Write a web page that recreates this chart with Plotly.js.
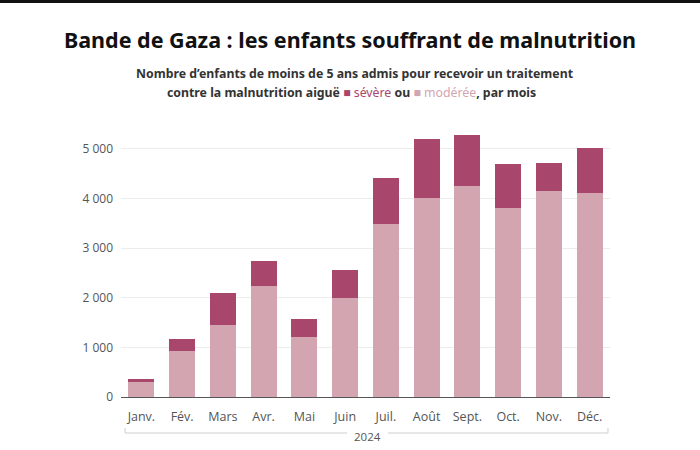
<!DOCTYPE html>
<html>
<head>
<meta charset="utf-8">
<script src="https://cdn.plot.ly/plotly-3.0.1.min.js"></script>
<style>
html,body{margin:0;padding:0;background:#fff;}
#chart{width:700px;height:450px;}
</style>
</head>
<body>
<div id="chart"></div>
<script>
const months = ["Janv.","Fév.","Mars","Avr.","Mai","Juin","Juil.","Août","Sept.","Oct.","Nov.","Déc."];
const moderate = [300, 925, 1450, 2240, 1210, 1990, 3490, 4010, 4250, 3810, 4150, 4120];
const severe   = [70, 245, 650, 510, 360, 570, 920, 1190, 1030, 890, 560, 890];
const yTickVals = [0, 1000, 2000, 3000, 4000, 5000];
const yTickText = ["0", "1 000", "2 000", "3 000", "4 000", "5 000"];
const yearLabel = "2024";

const cSevere = "#a9466c";
const cModerate = "#d3a5b1";

const traces = [
  {type:"bar", name:"modérée", x:months, y:moderate, marker:{color:cModerate}, hoverinfo:"x+y"},
  {type:"bar", name:"sévère", x:months, y:severe, marker:{color:cSevere}, hoverinfo:"x+y"}
];

const L = 121, R = 90, T = 125, B = 53, W = 700, H = 450;
const pw = W - L - R, ph = H - T - B;
const px = v => (v - L) / pw;
const py = v => (H - B - v) / ph;

const layout = {
  width: W, height: H,
  margin: {l: L, r: R, t: T, b: B},
  paper_bgcolor: "#fff", plot_bgcolor: "#fff",
  barmode: "stack",
  bargap: 0.36,
  showlegend: false,
  font: {family: "Open Sans, sans-serif", color: "#444"},
  title: {
    text: "<b>Bande de Gaza : les enfants souffrant de malnutrition</b>",
    font: {family: "Noto Sans, sans-serif", size: 21.5, color: "#111"},
    x: 0.5, xref: "container", xanchor: "center",
    y: 1 - 40/H, yref: "container", yanchor: "middle"
  },
  xaxis: {
    type: "category",
    tickfont: {size: 12.5, color: "#555"},
    showgrid: false, zeroline: false,
    showline: false, ticks: "", ticklabelstandoff: 10,
    range: [-0.5, 11.5],
    fixedrange: true
  },
  yaxis: {
    range: [0, 5480],
    tickvals: yTickVals, ticktext: yTickText,
    tickfont: {size: 12, color: "#555"},
    showgrid: true, gridcolor: "#ececec", gridwidth: 1,
    zeroline: true, zerolinecolor: "#555", zerolinewidth: 1,
    ticks: "", ticklabelstandoff: 7,
    showline: false, fixedrange: true
  },
  annotations: [
    {
      xref: "paper", yref: "paper", x: px(354), y: py(73), xanchor: "center", yanchor: "middle",
      text: "<b>Nombre d’enfants de moins de 5 ans admis pour recevoir un traitement</b>",
      showarrow: false, font: {family: "Noto Sans, sans-serif", size: 12.3, color: "#333"}
    },
    {
      xref: "paper", yref: "paper", x: px(351), y: py(92), xanchor: "center", yanchor: "middle",
      text: "<b>contre la malnutrition aiguë</b> <span style='color:" + cSevere + "'>■ sévère</span> <b>ou</b> <span style='color:" + cModerate + "'>■ modérée</span><b>, par mois</b>",
      showarrow: false, font: {family: "Noto Sans, sans-serif", size: 12.3, color: "#333"}
    },
    {
      xref: "x", yref: "paper", x: 5.55, y: py(436), xanchor: "center", yanchor: "middle",
      text: yearLabel, showarrow: false, font: {size: 11.5, color: "#555"}
    }
  ],
  shapes: [
    {type: "rect", xref: "paper", yref: "paper", x0: px(0), x1: px(700), y0: py(0), y1: py(3), fillcolor: "#111", line: {width: 0}},
    {type: "line", xref: "x", yref: "paper", x0: -0.4, x1: 5.05, y0: py(433), y1: py(433), line: {color: "#cfcfcf", width: 1}},
    {type: "line", xref: "x", yref: "paper", x0: 6.05, x1: 11.45, y0: py(433), y1: py(433), line: {color: "#cfcfcf", width: 1}},
    {type: "line", xref: "x", yref: "paper", x0: -0.4, x1: -0.4, y0: py(433), y1: py(428), line: {color: "#cfcfcf", width: 1}},
    {type: "line", xref: "x", yref: "paper", x0: 11.45, x1: 11.45, y0: py(433), y1: py(428), line: {color: "#cfcfcf", width: 1}}
  ]
};

Plotly.newPlot("chart", traces, layout, {displayModeBar: false, staticPlot: true});
</script>
</body>
</html>
